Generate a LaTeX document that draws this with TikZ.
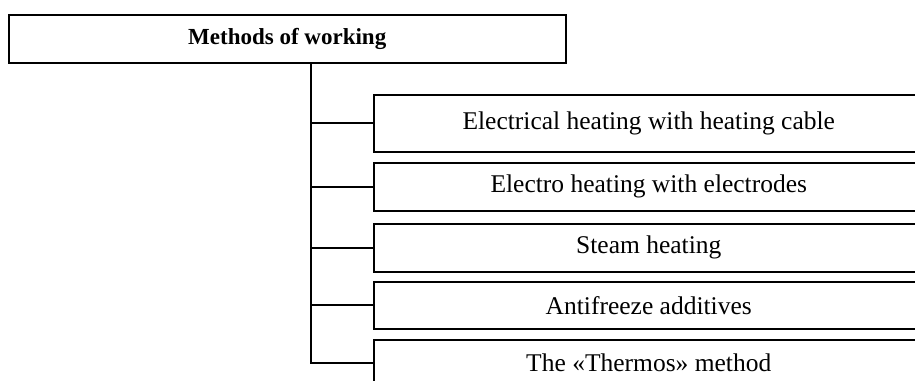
\documentclass[tikz,border=0pt]{standalone}
\usepackage{fontspec}
\setmainfont{Liberation Serif}
\begin{document}
\begin{tikzpicture}[x=1pt,y=-1pt,
  box/.style={draw, line width=1.5pt, anchor=north west, inner sep=0pt,
    minimum width=550pt, font=\fontsize{25.5}{28}\selectfont},
  conn/.style={line width=1.8pt}]
\clip (0,0) rectangle (915,380);
\node[box, minimum width=557pt, minimum height=48pt,
  font=\bfseries\fontsize{23}{26}\selectfont] (top) at (8,14) {Methods of working};
\node[box, minimum height=57pt] (b1) at (373,94) {Electrical heating with heating cable};
\node[box, minimum height=48pt] (b2) at (373,162) {Electro heating with electrodes};
\node[box, minimum height=48pt] (b3) at (373,223) {Steam heating};
\node[box, minimum height=47pt] (b4) at (373,281) {Antifreeze additives};
\node[box, minimum height=46pt] (b5) at (373,339) {The «Thermos» method};
\coordinate (trunk) at (311,62);
\draw[conn] (trunk) |- (b5.west);
\foreach \b in {b1,b2,b3,b4}
  \draw[conn] (trunk |- \b.west) -- (\b.west);
\end{tikzpicture}
\end{document}
